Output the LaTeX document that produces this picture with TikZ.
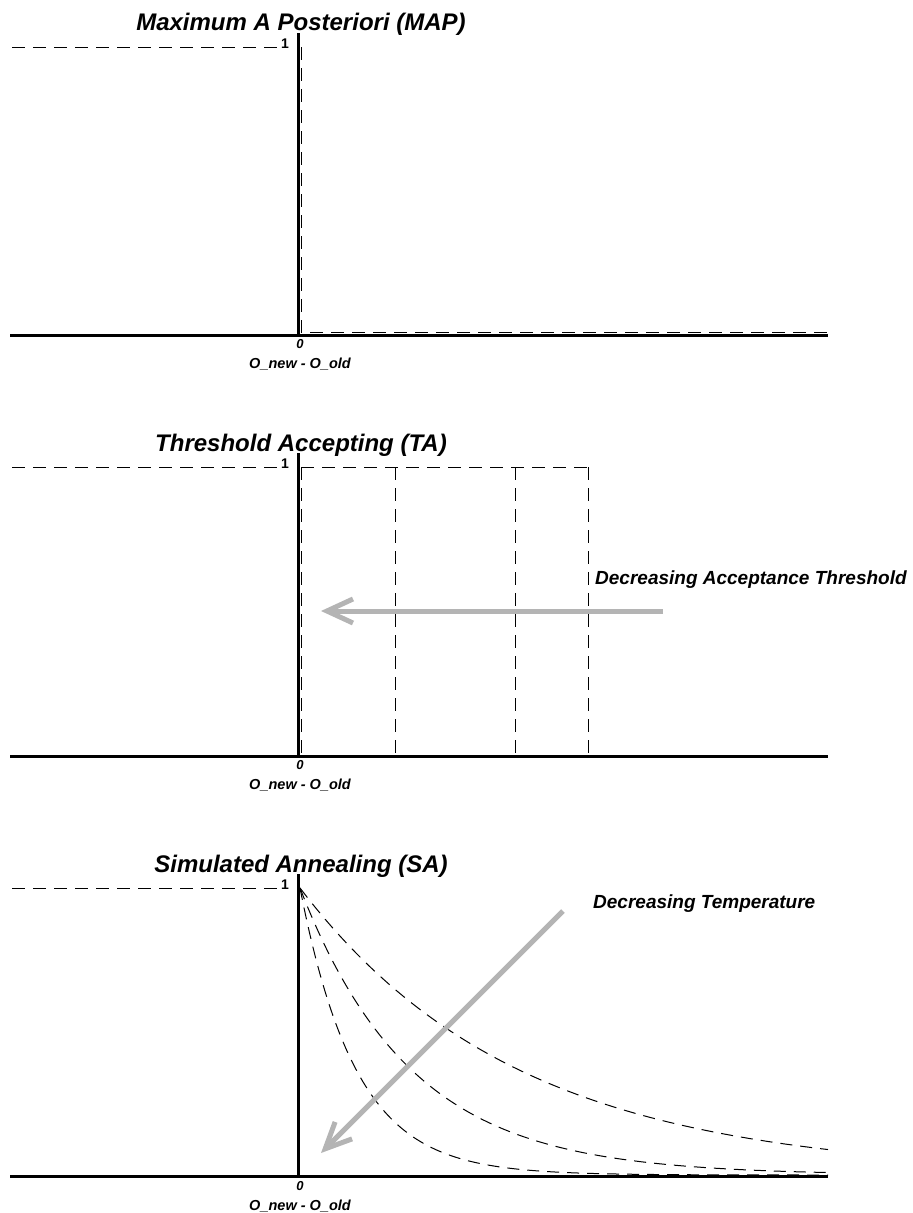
\documentclass[tikz,border=0pt]{standalone}
\usepackage{fontspec}
\setmainfont{Liberation Sans}
\usetikzlibrary{arrows.meta}
\definecolor{trendgray}{RGB}{180,180,180}
\begin{document}
\begin{tikzpicture}[x=1pt,y=-1pt,
  axisline/.style={line width=3pt},
  guide/.style={line width=1pt, dash pattern=on 13pt off 8pt},
  trend/.style={line width=5pt, draw=trendgray,
    -{Straight Barb[length=26pt,width=24pt]}},
  paneltitle/.style={font=\fontsize{24}{28}\selectfont\bfseries\itshape,
    anchor=base, inner sep=0pt},
  note/.style={font=\fontsize{19}{22}\selectfont\bfseries\itshape,
    anchor=base west, inner sep=0pt},
  ticklabel/.style={font=\fontsize{14}{16}\selectfont\bfseries, inner sep=0pt},
  zerolabel/.style={font=\fontsize{13}{15}\selectfont\bfseries\itshape, inner sep=0pt},
  xlabel/.style={font=\fontsize{14.5}{17}\selectfont\bfseries\itshape, inner sep=0pt}
]
\useasboundingbox (0,0) rectangle (913,1213);

% ---------- Panel 1: Maximum A Posteriori ----------
\node[paneltitle] (t1) at (301,30) {Maximum A Posteriori (MAP)};
\coordinate (o1) at (298,335);
\draw[axisline] (10,335) -- (828,335);
\draw[axisline] (298,33) -- (o1);
\draw[guide] (12,47) -- (283,47);
\node[ticklabel] (one1) at (285,44) {1};
\draw[guide] (301,47) -- (301,332) -- (828,332);
\node[zerolabel] (z1) at (300,344) {0};
\node[xlabel] (x1) at (300,364) {O\_new - O\_old};

% ---------- Panel 2: Threshold Accepting ----------
\node[paneltitle] (t2) at (301,451) {Threshold Accepting (TA)};
\coordinate (o2) at (298,756);
\draw[axisline] (10,756) -- (828,756);
\draw[axisline] (298,453) -- (o2);
\draw[guide] (12,467) -- (283,467);
\node[ticklabel] (one2) at (285,464) {1};
\draw[guide] (301,467) -- (588,467);
\foreach \xv in {301,395,515,588}
  \draw[guide] (\xv,467) -- (\xv,754);
\node[zerolabel] (z2) at (300,765) {0};
\node[xlabel] (x2) at (300,785) {O\_new - O\_old};
\coordinate (a2s) at (663,611);
\coordinate (a2e) at (321,611);
\draw[trend] (a2s) -- (a2e);
\node[note] (n2) at (595,584) {Decreasing Acceptance Threshold};

% ---------- Panel 3: Simulated Annealing ----------
\node[paneltitle] (t3) at (301,872) {Simulated Annealing (SA)};
\coordinate (o3) at (298,1176);
\draw[axisline] (10,1176) -- (828,1176);
\draw[axisline] (298,874) -- (o3);
\draw[guide] (12,888) -- (283,888);
\node[ticklabel] (one3) at (285,885) {1};
\foreach \T in {218,111,56}
  \draw[guide, dash pattern=on 12pt off 8pt]
    plot[domain=0:528, samples=140, smooth] ({300+\x},{1175-287*exp(-\x/\T)});
\node[zerolabel] (z3) at (300,1186) {0};
\node[xlabel] (x3) at (300,1206) {O\_new - O\_old};
\coordinate (a3s) at (563,911);
\coordinate (a3e) at (321,1153);
\draw[trend] (a3s) -- (a3e);
\node[note] (n3) at (593,908) {Decreasing Temperature};
\end{tikzpicture}
\end{document}
